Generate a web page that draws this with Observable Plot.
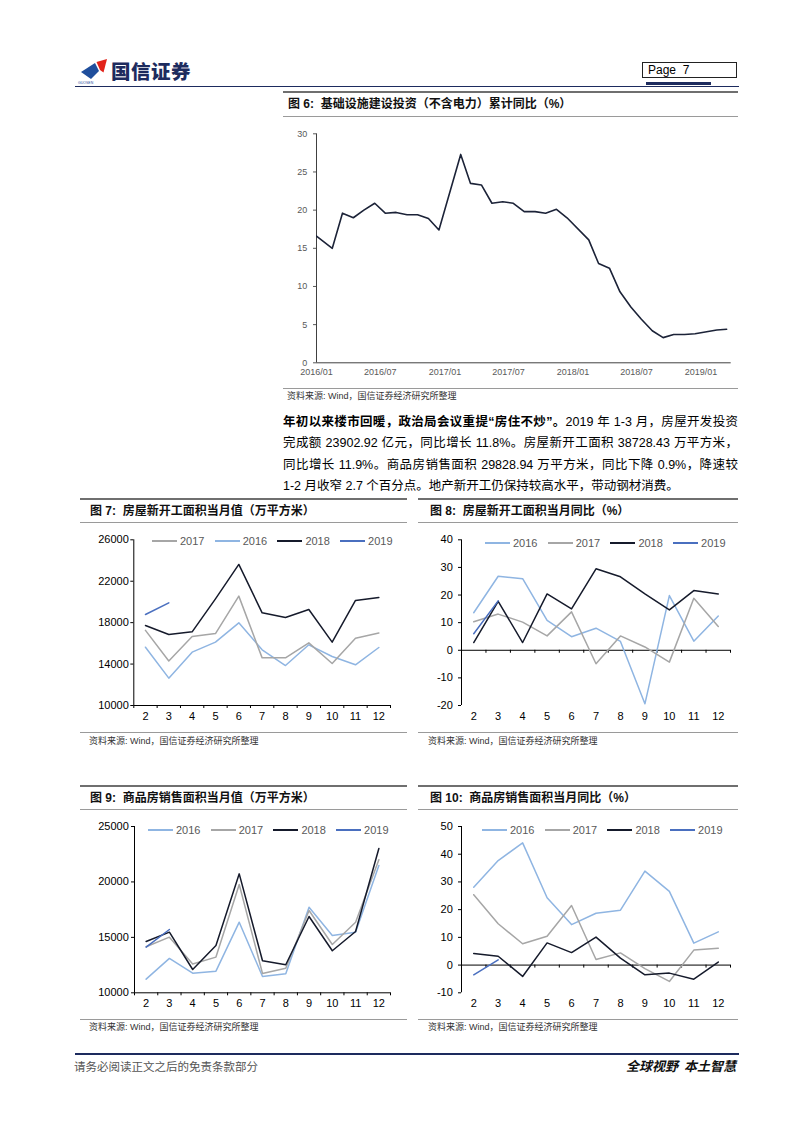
<!DOCTYPE html>
<html><head><meta charset="utf-8">
<script src="https://cdn.jsdelivr.net/npm/d3@7"></script>
<script src="https://cdn.jsdelivr.net/npm/@observablehq/plot@0.6"></script>
<style>
body{margin:0;background:#fff;}
#page{position:relative;width:802px;height:1133px;overflow:hidden;background:#fff;font-family:"Liberation Sans",Arial,"Noto Sans CJK SC",sans-serif;color:#000;}
.hr{position:absolute;}
.title{position:absolute;font-size:12px;font-weight:bold;white-space:nowrap;line-height:14px;color:#111;}
.src{position:absolute;font-size:9px;color:#333;white-space:nowrap;line-height:10px;}
.legend{position:absolute;display:flex;font-size:11px;color:#595959;line-height:12px;height:12px;}
.li{display:flex;align-items:center;width:62.7px;}
.sw{display:inline-block;width:25px;height:2px;margin-right:3px;}
.pl{position:absolute;left:283px;width:455px;font-size:12.5px;line-height:16px;text-align:justify;text-align-last:justify;}
.chart{position:absolute;}
.chart svg{display:block;}
</style>
</head><body><div id="page"></div>
<script>
// ---------- data ----------
const MONTHS = [2,3,4,5,6,7,8,9,10,11,12];
const BOUNDS = [1.5,2.5,3.5,4.5,5.5,6.5,7.5,8.5,9.5,10.5,11.5,12.5];

// Fig 6: infrastructure investment (excl. power) cumulative YoY (%)
const fig6Months = ["2015-12","2016-02","2016-03","2016-04","2016-05","2016-06","2016-07","2016-08","2016-09","2016-10","2016-11","2016-12",
  "2017-02","2017-03","2017-04","2017-05","2017-06","2017-07","2017-08","2017-09","2017-10","2017-11","2017-12",
  "2018-02","2018-03","2018-04","2018-05","2018-06","2018-07","2018-08","2018-09","2018-10","2018-11","2018-12",
  "2019-02","2019-03"];
const fig6Values = [17.2,15.0,19.6,19.0,20.0,20.9,19.6,19.7,19.4,19.4,18.9,17.4,
  27.3,23.5,23.3,20.9,21.1,20.9,19.8,19.8,19.6,20.1,19.0,
  16.1,13.0,12.4,9.3,7.3,5.7,4.2,3.3,3.7,3.7,3.8,
  4.3,4.4];
const fig6Ticks = ["2016-01","2016-07","2017-01","2017-07","2018-01","2018-07","2019-01"];
const fig6YTicks = [0,5,10,15,20,25,30];

// Fig 7: new housing starts, monthly (10k m2)
const fig7_2016 = [15630,12640,15150,16120,17980,15380,13860,15860,14730,13930,15600];
const fig7_2017 = [17250,14300,16660,16950,20560,14600,14600,16050,14060,16500,17000];
const fig7_2018 = [17730,16860,17110,20300,23620,18950,18500,19270,16120,20140,20430];
const fig7_2019 = [18790,19910];
const fig7YTicks = [10000,14000,18000,22000,26000];

// Fig 8: new housing starts, monthly YoY (%)
const fig8_2016 = [13.6,26.8,25.9,10.8,4.9,8.0,3.2,-19.4,19.8,3.3,12.4];
const fig8_2017 = [10.3,13.1,10.2,5.2,13.9,-4.9,5.2,1.2,-4.3,18.8,8.6];
const fig8_2018 = [2.8,17.7,2.8,20.4,15.0,29.5,26.6,20.4,14.6,21.6,20.4];
const fig8_2019 = [6.0,17.9];
const fig8YTicks = [-20,-10,0,10,20,30,40];

// Fig 9: commercial housing sales area, monthly (10k m2)
const fig9_2016 = [11230,13100,11770,11950,16370,11470,11710,17720,15170,15470,21480];
const fig9_2017 = [14150,15020,12590,13220,19770,11740,12220,17420,14360,16370,22000];
const fig9_2018 = [14630,15470,12100,14270,20730,12890,12530,16880,13790,15530,23020];
const fig9_2019 = [14120,15710];
const fig9YTicks = [10000,15000,20000,25000];

// Fig 10: commercial housing sales area, monthly YoY (%)
const fig10_2016 = [28.1,37.7,44.1,24.3,14.6,18.7,19.8,33.9,26.6,7.9,12.0];
const fig10_2017 = [25.4,14.9,7.7,10.4,21.5,2.0,4.4,-1.3,-5.9,5.4,6.1];
const fig10_2018 = [4.2,3.2,-4.1,8.0,4.5,10.1,2.5,-3.5,-2.9,-5.1,1.1];
const fig10_2019 = [-3.5,1.9];
const fig10YTicks = [-10,0,10,20,30,40,50];

const COLORS = {"2016":"#8fb5e2","2017":"#a6a6a6","2018":"#151a2b","2019":"#4a6fbf"};

// ---------- page helpers ----------
const page = document.getElementById("page");
function el(tag, cls, style, html){const e=document.createElement(tag); if(cls) e.className=cls; if(style) e.style.cssText=style; if(html!=null) e.innerHTML=html; page.appendChild(e); return e;}
function hr(x1,x2,y,w,c){el("div","hr",`left:${x1}px;top:${y - w/2}px;width:${x2-x1}px;height:${w}px;background:${c};`);}

// header
el("div","",`position:absolute;left:75px;top:52px;width:40px;height:34px;`,
 `<svg width="40" height="34" viewBox="75 52 40 34"><polygon points="81,72 95,63 99,71 91,79" fill="#1f4e9c"/><polygon points="96.5,62 107,59 103.5,72.5 100,70" fill="#e2231a"/><text x="78" y="84" font-size="3.5" fill="#1f4e9c" font-family="Liberation Sans">GUOSEN</text></svg>`);
el("div","",`position:absolute;left:111px;top:60px;font-size:19.5px;font-weight:900;color:#1d2b5e;letter-spacing:0.5px;line-height:22px;font-family:'Noto Sans CJK SC';`,"国信证券");
el("div","",`position:absolute;left:642px;top:62px;width:95px;height:16px;border:1px solid #222;box-sizing:border-box;font-size:12px;line-height:14px;padding-left:5px;white-space:pre;`,"Page  7");
hr(646,711,83.5,3,"#1d2b5e");
hr(75,739,86.5,1.5,"#1d2b5e");

// footer
hr(75,739,1054,2,"#1d2b5e");
el("div","",`position:absolute;left:74px;top:1059px;font-size:11.5px;color:#555;line-height:14px;font-family:'Noto Sans CJK SC';white-space:nowrap;`,"请务必阅读正文之后的免责条款部分");
el("div","",`position:absolute;right:66px;top:1058px;font-size:13px;font-weight:bold;font-style:italic;color:#111;line-height:16px;font-family:'Noto Sans CJK SC';white-space:pre;`,"全球视野  本土智慧");

// figure 6 block
hr(283,738,92,2.5,"#6f6f6f");
el("div","title",`left:288px;top:97px;`,"图 6:&nbsp; 基础设施建设投资（不含电力）累计同比（%）");
hr(283,738,116.5,1,"#9a9a9a");
hr(283,738,388.5,1,"#9a9a9a");
el("div","src",`left:287px;top:391px;`,"资料来源: Wind，国信证券经济研究所整理");

// paragraph
el("div","pl",`top:413.5px;`,"<b>年初以来楼市回暖，政治局会议重提“房住不炒”。</b>2019 年 1-3 月，房屋开发投资");
el("div","pl",`top:435px;`,"完成额 23902.92 亿元，同比增长 11.8%。房屋新开工面积 38728.43 万平方米，");
el("div","pl",`top:456.5px;`,"同比增长 11.9%。商品房销售面积 29828.94 万平方米，同比下降 0.9%，降速较");
el("div","pl",`top:478px;text-align:left;text-align-last:left;`,"1-2 月收窄 2.7 个百分点。地产新开工仍保持较高水平，带动钢材消费。");

// blocks for 7-10
function block(x1,x2,yTop,yUnder,yBottom,title,srcY,titleX,srcX){
  hr(x1,x2,yTop,2.5,"#6f6f6f");
  el("div","title",`left:${titleX}px;top:${(yTop+yUnder)/2-7}px;`,title);
  hr(x1,x2,yUnder,1,"#9a9a9a");
  hr(x1,x2,yBottom,1,"#9a9a9a");
  el("div","src",`left:${srcX}px;top:${srcY-5}px;`,"资料来源: Wind，国信证券经济研究所整理");
}
block(80,407,499,522,732.5,"图 7:&nbsp; 房屋新开工面积当月值（万平方米）",741,90,89);
block(418,738,499,522,732.5,"图 8:&nbsp; 房屋新开工面积当月同比（%）",741,430,428);
block(80,407,786,809,1019,"图 9:&nbsp; 商品房销售面积当月值（万平方米）",1027,90,89);
block(418,738,786,809,1019,"图 10:&nbsp; 商品房销售面积当月同比（%）",1027,430,428);

function legend(x,yc,names){
  const d = el("div","legend",`left:${x}px;top:${Math.round(yc-6)}px;`);
  d.innerHTML = names.map(n=>`<div class="li"><span class="sw" style="background:${COLORS[n]}"></span><span>${n}</span></div>`).join("");
}

// ---------- charts ----------
function place(svg,left,top){const d=el("div","chart",`left:${left}px;top:${top}px;`); d.appendChild(svg);}

// Fig 6
{
  const parse = s => {const [y,m]=s.split("-").map(Number); return new Date(Date.UTC(y,m-1,15));};
  const data = fig6Months.map((s,i)=>({date: parse(s), v: fig6Values[i]}));
  const ticks = fig6Ticks.map(s=>{const [y,m]=s.split("-").map(Number); return new Date(Date.UTC(y,m-1,1));});
  const x0 = new Date(Date.UTC(2016,0,1)), x1 = new Date(Date.UTC(2019,2,28));
  const svg = Plot.plot({
    width:455, height:262, marginLeft:33, marginRight:7.3, marginTop:13.3, marginBottom:19.7,
    style:{fontFamily:"Liberation Sans, Arial, sans-serif", fontSize:"9px", color:"#595959", background:"transparent", overflow:"visible"},
    x:{type:"utc", domain:[x0,x1], ticks, tickFormat:d3.utcFormat("%Y/%m"), tickSize:0, tickPadding:6, label:null},
    y:{domain:[0,30], ticks:fig6YTicks, tickSize:3, tickPadding:6.3, label:null},
    marks:[
      Plot.ruleX([x0],{stroke:"#404040"}),
      Plot.ruleY([0],{stroke:"#404040"}),
      Plot.line(data,{x:"date",y:"v",stroke:"#1c2338",strokeWidth:1.6,clip:true})
    ]
  });
  place(svg,283,120);
}

function monthChart({series, yDomain, yTicks, zero, w, h, ml, mr, mt, mb, xPad, yPad}){
  const marks = [
    Plot.ruleX([1.5],{stroke:"#000"}),
    Plot.ruleY([zero],{stroke:"#000"}),
    Plot.ruleX(BOUNDS,{x:d=>d, y1:()=>zero, y2:()=>zero, insetBottom:-3, stroke:"#000"})
  ];
  for (const s of series){
    const data = s.values.map((v,i)=>({m:MONTHS[i], v}));
    marks.push(Plot.line(data,{x:"m",y:"v",stroke:COLORS[s.name],strokeWidth:1.5}));
  }
  return Plot.plot({
    width:w, height:h, marginLeft:ml, marginRight:mr, marginTop:mt, marginBottom:mb,
    style:{fontFamily:"Liberation Sans, Arial, sans-serif", fontSize:"11px", color:"#000", background:"transparent", overflow:"visible"},
    x:{domain:[1.5,12.5], ticks:MONTHS, tickFormat:d=>String(d), tickSize:0, tickPadding:xPad, label:null},
    y:{domain:yDomain, ticks:yTicks, tickFormat:d=>String(d), tickSize:3, tickPadding:yPad, label:null},
    marks
  });
}

place(monthChart({
  series:[{name:"2016",values:fig7_2016},{name:"2017",values:fig7_2017},{name:"2018",values:fig7_2018},{name:"2019",values:fig7_2019}],
  yDomain:[10000,26000], yTicks:fig7YTicks, zero:10000,
  w:327, h:208, ml:53.3, mr:17, mt:15.3, mb:27, xPad:7, yPad:2
}),80,524);
legend(152,541,["2017","2016","2018","2019"]);

place(monthChart({
  series:[{name:"2016",values:fig8_2016},{name:"2017",values:fig8_2017},{name:"2018",values:fig8_2018},{name:"2019",values:fig8_2019}],
  yDomain:[-20,40], yTicks:fig8YTicks, zero:0,
  w:320, h:208, ml:43, mr:8, mt:15.3, mb:27, xPad:7, yPad:5.7
}),418,524);
legend(485,543,["2016","2017","2018","2019"]);

place(monthChart({
  series:[{name:"2016",values:fig9_2016},{name:"2017",values:fig9_2017},{name:"2018",values:fig9_2018},{name:"2019",values:fig9_2019}],
  yDomain:[10000,25000], yTicks:fig9YTicks, zero:10000,
  w:327, h:209, ml:54, mr:17, mt:16, mb:26.7, xPad:6.5, yPad:2.7
}),80,810);
legend(148,830,["2016","2017","2018","2019"]);

place(monthChart({
  series:[{name:"2016",values:fig10_2016},{name:"2017",values:fig10_2017},{name:"2018",values:fig10_2018},{name:"2019",values:fig10_2019}],
  yDomain:[-10,50], yTicks:fig10YTicks, zero:0,
  w:320, h:209, ml:43, mr:8, mt:16, mb:26.7, xPad:6.5, yPad:5.7
}),418,810);
legend(482,830,["2016","2017","2018","2019"]);
</script>
</body></html>
